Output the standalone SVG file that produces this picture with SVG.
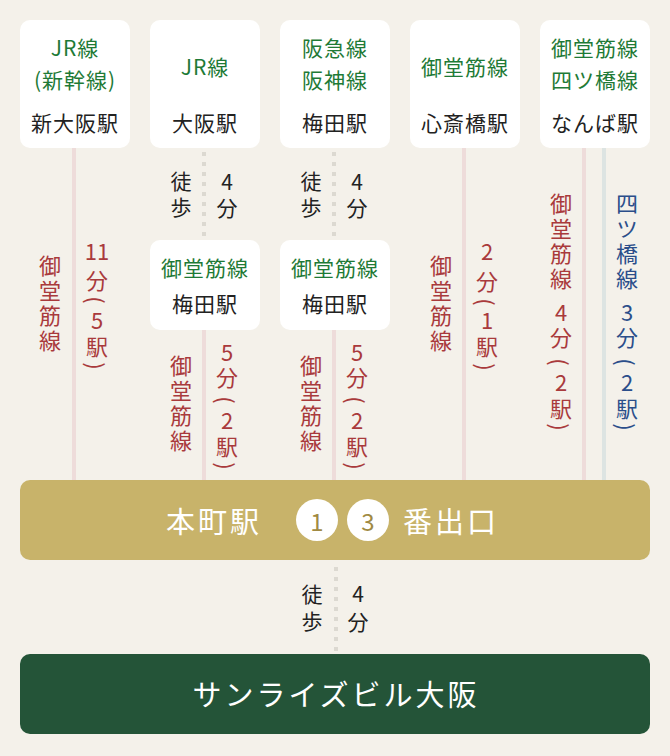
<svg xmlns="http://www.w3.org/2000/svg" width="670" height="756" viewBox="0 0 670 756">
<style>
text{font-family:"Noto Sans CJK JP","Noto Sans",sans-serif;dominant-baseline:central;text-anchor:middle}
.v{writing-mode:vertical-rl;text-orientation:upright}
.box{fill:#ffffff}
.ln{fill:#1e7a36;font-size:21px;letter-spacing:1px}
.st{fill:#222222;font-size:21px;letter-spacing:1px}
.vr{fill:#a93a3c;font-size:22px}
.vb{fill:#2b4e8a;font-size:22px}
.vk{fill:#222222;font-size:21px}
.pink{stroke:#eedcda;stroke-width:4}
.blue{stroke:#dde4e2;stroke-width:4}
.dot{stroke:#dcd9d1;stroke-width:4;stroke-dasharray:4 6}
</style>
<rect width="670" height="756" fill="#f4f1ea"/>
<g id="connectors">
<line class="pink" x1="74" y1="148" x2="74" y2="480"/>
<line class="pink" x1="204" y1="330" x2="204" y2="480"/>
<line class="pink" x1="334" y1="330" x2="334" y2="480"/>
<line class="pink" x1="464" y1="148" x2="464" y2="480"/>
<line class="pink" x1="584" y1="148" x2="584" y2="480"/>
<line class="blue" x1="604" y1="148" x2="604" y2="480"/>
<line class="dot" x1="204" y1="152" x2="204" y2="240"/>
<line class="dot" x1="334" y1="152" x2="334" y2="240"/>
<line class="dot" x1="336" y1="567" x2="336" y2="652"/>
</g>
<g id="labels">
<text class="vr v" x="50" y="304.5" letter-spacing="3">御堂筋線</text>
<text class="vr" x="97" y="250" font-size="21">11</text>
<text class="vr" x="97" y="279">分</text>
<text class="vr" x="97" y="300" transform="rotate(90 97 300)">(</text>
<text class="vr v" x="97" y="336" letter-spacing="4">5駅</text>
<text class="vr" x="97" y="366" transform="rotate(90 97 366)">)</text>
<text class="vk v" x="181" y="196.5" letter-spacing="5">徒歩</text>
<text class="vk v" x="227" y="197.5" letter-spacing="5">4分</text>
<text class="vk v" x="311" y="196.5" letter-spacing="5">徒歩</text>
<text class="vk v" x="357" y="197.5" letter-spacing="5">4分</text>
<text class="vr v" x="181" y="404.5" letter-spacing="3">御堂筋線</text>
<text class="vr v" x="227" y="366.5" letter-spacing="3">5分</text>
<text class="vr" x="227" y="400" transform="rotate(90 227 400)">(</text>
<text class="vr v" x="227" y="436" letter-spacing="4">2駅</text>
<text class="vr" x="227" y="466" transform="rotate(90 227 466)">)</text>
<text class="vr v" x="311" y="404.5" letter-spacing="3">御堂筋線</text>
<text class="vr v" x="357" y="366.5" letter-spacing="3">5分</text>
<text class="vr" x="357" y="400" transform="rotate(90 357 400)">(</text>
<text class="vr v" x="357" y="436" letter-spacing="4">2駅</text>
<text class="vr" x="357" y="466" transform="rotate(90 357 466)">)</text>
<text class="vr v" x="441" y="304.5" letter-spacing="3">御堂筋線</text>
<text class="vr v" x="487" y="271" letter-spacing="8">2分</text>
<text class="vr" x="487" y="302" transform="rotate(90 487 302)">(</text>
<text class="vr v" x="487" y="336" letter-spacing="4">1駅</text>
<text class="vr" x="487" y="367" transform="rotate(90 487 367)">)</text>
<text class="vr v" x="561" y="243" letter-spacing="3">御堂筋線</text>
<text class="vr v" x="561" y="327" letter-spacing="3">4分</text>
<text class="vr" x="561" y="362" transform="rotate(90 561 362)">(</text>
<text class="vr v" x="561" y="398" letter-spacing="4">2駅</text>
<text class="vr" x="561" y="427" transform="rotate(90 561 427)">)</text>
<text class="vb v" x="627" y="243" letter-spacing="3">四ツ橋線</text>
<text class="vb v" x="627" y="327" letter-spacing="3">3分</text>
<text class="vb" x="627" y="362" transform="rotate(90 627 362)">(</text>
<text class="vb v" x="627" y="398" letter-spacing="4">2駅</text>
<text class="vb" x="627" y="427" transform="rotate(90 627 427)">)</text>
<text class="vk v" x="312" y="610.5" letter-spacing="6">徒歩</text>
<text class="vk v" x="358" y="611.5" letter-spacing="7">4分</text>
</g>
<g id="shin-osaka">
<rect class="box" x="20" y="20" width="110" height="128" rx="10"/>
<text class="ln" x="75" y="47">JR線</text>
<text class="ln" x="75" y="79">(新幹線)</text>
<text class="st" x="75" y="122">新大阪駅</text>
</g>
<g id="osaka">
<rect class="box" x="150" y="20" width="110" height="128" rx="10"/>
<text class="ln" x="205" y="66">JR線</text>
<text class="st" x="205" y="122">大阪駅</text>
</g>
<g id="umeda-hankyu">
<rect class="box" x="280" y="20" width="110" height="128" rx="10"/>
<text class="ln" x="335" y="47">阪急線</text>
<text class="ln" x="335" y="79">阪神線</text>
<text class="st" x="335" y="122">梅田駅</text>
</g>
<g id="shinsaibashi">
<rect class="box" x="410" y="20" width="110" height="128" rx="10"/>
<text class="ln" x="465" y="66">御堂筋線</text>
<text class="st" x="465" y="122">心斎橋駅</text>
</g>
<g id="namba">
<rect class="box" x="540" y="20" width="110" height="128" rx="10"/>
<text class="ln" x="595" y="47">御堂筋線</text>
<text class="ln" x="595" y="79">四ツ橋線</text>
<text class="st" x="595" y="122">なんば駅</text>
</g>
<g id="umeda-1">
<rect class="box" x="150" y="240" width="110" height="90" rx="10"/>
<text class="ln" x="205" y="267">御堂筋線</text>
<text class="st" x="205" y="303">梅田駅</text>
</g>
<g id="umeda-2">
<rect class="box" x="280" y="240" width="110" height="90" rx="10"/>
<text class="ln" x="335" y="267">御堂筋線</text>
<text class="st" x="335" y="303">梅田駅</text>
</g>
<g id="honmachi">
<rect x="20" y="480" width="630" height="80" rx="10" fill="#c8b36a"/>
<text x="214" y="520" fill="#ffffff" font-size="29" letter-spacing="3">本町駅</text>
<circle cx="317" cy="520" r="21" fill="#ffffff"/>
<circle cx="368" cy="520" r="21" fill="#ffffff"/>
<text x="317" y="520" fill="#a08a43" font-size="24">1</text>
<text x="368" y="520" fill="#a08a43" font-size="24">3</text>
<text x="451" y="520" fill="#ffffff" font-size="29" letter-spacing="3">番出口</text>
</g>
<g id="sunrise">
<rect x="20" y="654" width="630" height="80" rx="10" fill="#245438"/>
<text x="336" y="693" fill="#ffffff" font-size="29" letter-spacing="3">サンライズビル大阪</text>
</g>
</svg>
